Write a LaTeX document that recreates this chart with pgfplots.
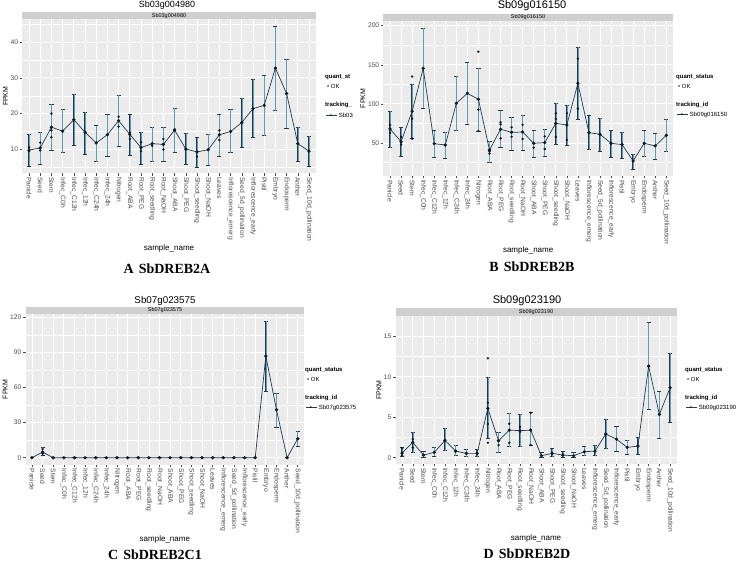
\documentclass[border=0pt]{standalone}
\usepackage{pgfplots}
\pgfplotsset{compat=1.18}
\usepackage{pgfplotstable}
\usepackage{fontspec}
\setmainfont{Liberation Sans}
\newfontfamily\capfont{Liberation Serif}
\definecolor{panelbg}{HTML}{EBEBEB}
\definecolor{stripbg}{HTML}{CFCFCF}
\definecolor{errdark}{HTML}{1E3A4C}
\definecolor{errlight}{HTML}{5E9CB8}
\definecolor{linecol}{HTML}{1F3D50}
\definecolor{ptcol}{HTML}{101C26}
\definecolor{ticktext}{HTML}{4D4D4D}

\pgfplotstableread{
x y lo hi
1 9.8 5.4 14.2
2 10.4 5.9 14.9
3 16.2 9.7 22.6
4 15.1 9.1 21.2
5 18.3 11.2 25.4
6 14.8 8.7 20.5
7 11.8 6.6 16.6
8 14.1 8.1 19.7
9 18.0 11.0 25.2
10 14.2 8.3 19.7
11 10.5 5.9 14.9
12 11.6 6.6 16.3
13 11.4 6.7 16.2
14 15.4 9.3 21.6
15 10.1 5.8 14.6
16 9.3 5.0 13.3
17 9.9 5.5 14.3
18 14.1 8.2 19.7
19 15.0 9.1 21.2
20 17.5 10.6 24.4
21 21.4 13.4 29.6
22 22.3 13.8 30.6
23 32.7 20.8 44.3
24 25.6 16.0 35.3
25 11.6 6.7 16.3
26 9.5 5.3 13.7
}\dataA
\pgfplotstableread{
x y
1 10.6
1 9.5
2 11.9
2 9.7
3 20.0
3 15.3
3 13.4
9 19.1
9 16.4
10 14.7
10 12.9
11 12.0
11 9.5
12 11.0
13 12.9
13 10.0
14 15.6
16 8.0
18 15.3
18 12.6
}\repA

\pgfplotstableread{
x y lo hi
1 67.9 44.0 90.5
2 51.7 33.4 69.6
3 90.5 56.0 125.0
4 145.4 94.3 196.6
5 49.1 32.1 65.8
6 47.4 30.4 63.6
7 100.7 65.8 135.2
8 113.5 73.9 152.7
9 105.8 64.9 145.4
10 41.0 24.9 52.6
11 67.5 44.5 91.3
12 63.6 41.0 82.8
13 64.0 41.0 85.8
14 49.6 32.1 65.8
15 50.4 33.0 67.5
16 75.1 48.7 101.0
17 73.0 47.4 98.1
18 126.3 80.3 172.3
19 63.2 41.5 84.9
20 61.1 39.3 81.5
21 49.6 32.1 65.8
22 47.9 30.8 64.1
23 27.0 16.8 35.5
24 49.6 32.5 65.8
25 46.2 29.5 61.9
26 59.8 38.9 80.7
}\dataB
\pgfplotstableread{
x y
1 73
1 63
2 57.7
2 47.9
3 135
3 81
3 55.5
9 166.7
9 92.6
9 65.3
10 38.9
10 36.4
11 76.4
11 73.9
11 56
12 70
12 58
13 73.4
13 55
14 44
15 58.5
15 42.3
16 88
16 80.7
16 57.7
17 88
17 53.8
18 157.8
18 93.9
}\repB

\pgfplotstableread{
x y lo hi
1 0 0 0
2 4.8 2.3 8.8
3 0 0 0
4 0 0 0
5 0 0 0
6 0 0 0
7 0 0 0
8 0 0 0
9 0 0 0
10 0 0 0
11 0 0 0
12 0 0 0
13 0 0 0
14 0 0 0
15 0 0 0
16 0 0 0
17 0 0 0
18 0 0 0
19 0 0 0
20 0 0 0
21 0 0 0
22 0 0 0
23 86.9 57.0 116.8
24 41.0 26.2 55.0
25 0 0 0
26 16.2 10.0 22.8
}\dataC
\pgfplotstableread{
x y
2 7.5
2 3.5
}\repC

\pgfplotstableread{
x y lo hi
1 0.58 0.12 1.24
2 1.90 0.62 3.20
3 0.33 0.08 0.74
4 0.66 0.20 1.28
5 2.14 0.87 3.63
6 0.82 0.25 1.52
7 0.54 0.12 1.03
8 0.54 0.12 1.03
9 6.10 2.39 9.93
10 2.10 0.62 3.13
11 3.42 1.36 5.48
12 3.34 1.36 5.36
13 3.42 1.57 5.60
14 0.25 0.08 0.62
15 0.54 0.12 1.11
16 0.33 0.08 0.74
17 0.25 0.08 0.62
18 0.74 0.25 1.36
19 0.82 0.25 1.57
20 2.93 1.11 4.74
21 2.30 0.82 3.83
22 1.28 0.41 2.18
23 1.44 0.45 2.55
24 11.33 6.00 16.70
25 5.36 2.39 8.16
26 8.65 4.37 12.94
}\dataD
\pgfplotstableread{
x y
1 1.15
1 0.25
2 2.3
2 1.24
9 12.3
9 6.8
9 4.16
9 1.85
10 1.57
11 4.2
11 1.85
12 3.8
12 3.2
13 5.56
13 1.57
}\repD

\pgfplotsset{
 gg/.style={
  scale only axis, anchor=south west,
  axis background/.style={fill=panelbg},
  axis line style={draw=none},
  xmin=0.4, xmax=26.6,
  xtick={1,...,26},
  xticklabels={Panicle,Seed,Stem,Infec\_C0h,Infec\_C12h,Infec\_12h,Infec\_C24h,Infec\_24h,Nitrogen,Root\_ABA,Root\_PEG,Root\_seedling,Root\_NaOH,Shoot\_ABA,Shoot\_PEG,Shoot\_seedling,Shoot\_NaOH,Leaves,Inflorescence\_emerg,Seed\_5d\_pollination,Inflorescence\_early,Pistil,Embryo,Endosperm,Anther,Seed\_10d\_pollination},
  xticklabel style={rotate=-90, anchor=west, font=\fontsize{6.7}{7}\selectfont, text=ticktext, inner sep=1.5pt},
  yticklabel style={font=\fontsize{6.7}{7}\selectfont, text=ticktext, inner sep=1.5pt},
  xmajorgrids, ymajorgrids, yminorgrids,
  major grid style={white, line width=0.8pt},
  minor grid style={white, line width=0.35pt},
  tick align=outside, major tick length=2.5pt, minor tick length=0pt,
  tick pos=left,
  tick style={black!70, line width=0.5pt},
  /pgf/number format/assume math mode=true,
  xlabel={sample\_name}, ylabel={FPKM},
  xlabel style={font=\fontsize{8}{9}\selectfont, inner sep=1pt},
  ylabel style={font=\fontsize{7}{8}\selectfont, inner sep=1pt},
 },
 ebdark/.style={draw=none, mark=none, forget plot,
   error bars/.cd, y dir=both, y explicit,
   error bar style={draw=errdark, line width=1.3pt},
   error mark=-,
   error mark options={rotate=90, mark size=2.1pt, draw=errdark, line width=0.6pt}},
 eblight/.style={draw=none, mark=none, forget plot,
   error bars/.cd, y dir=both, y explicit,
   error bar style={draw=errlight, line width=0.5pt},
   error mark=none},
 ln/.style={linecol, line width=0.7pt, mark=*, mark size=1.3pt, mark options={fill=ptcol, draw=ptcol}},
 rp/.style={only marks, mark=*, mark size=1pt, ptcol, forget plot},
}
\newcommand{\legOK}{\textcolor{ptcol}{\textbullet}}
\newcommand{\legLine}{\makebox[11pt][l]{\rlap{\textcolor{linecol}{\rule[1.9pt]{11pt}{0.7pt}}}\hspace{3.6pt}\textcolor{ptcol}{\textbullet}}}
\newcommand{\myleg}[5]{%
 \node[anchor=west, font=\fontsize{6}{7}\selectfont\bfseries, inner sep=0pt] at (#1pt,-#2pt) {#3};
 \node[anchor=west, font=\fontsize{6}{7}\selectfont, inner sep=0pt] at (#1pt+2pt,-#2pt-9pt) {\legOK\ OK};
 \node[anchor=west, font=\fontsize{6}{7}\selectfont\bfseries, inner sep=0pt] at (#1pt,-#2pt-28pt) {#4};
 \node[anchor=west, font=\fontsize{6}{7}\selectfont, inner sep=0pt] at (#1pt+1pt,-#2pt-38pt) {\legLine\ #5};
}

\begin{document}
\begin{tikzpicture}
\path[use as bounding box] (0,0) rectangle (738pt,-561pt);

% ---------------- A ----------------
\fill[stripbg] (22.3pt,-19.5pt) rectangle (315.7pt,-12.3pt);
\node[font=\fontsize{5.5}{6}\selectfont] at (169pt,-15.9pt) {Sb03g004980};
\node[font=\fontsize{9}{10}\selectfont] at (167pt,-5.5pt) {Sb03g004980};
\begin{axis}[gg, at={(22.3pt,-173pt)}, width=293.4pt, height=153.5pt,
  ymin=3.4, ymax=46.3, ytick={10,20,30,40}, minor ytick={5,15,25,35,45}]
\addplot[ebdark] table[x=x, y=y, y error plus expr=\thisrow{hi}-\thisrow{y}, y error minus expr=\thisrow{y}-\thisrow{lo}] {\dataA};
\addplot[eblight] table[x=x, y=y, y error plus expr=\thisrow{hi}-\thisrow{y}, y error minus expr=\thisrow{y}-\thisrow{lo}] {\dataA};
\addplot[ln] table[x=x,y=y] {\dataA};
\addplot[rp] table[x=x,y=y] {\repA};
\end{axis}
\myleg{325}{77}{quant\_st}{tracking\_}{Sb03}
\node[font=\capfont\fontsize{14}{16}\selectfont\bfseries] at (167pt,-269pt) {A\hspace{5pt}SbDREB2A};

% ---------------- B ----------------
\fill[stripbg] (383.4pt,-21pt) rectangle (672.9pt,-13.6pt);
\node[font=\fontsize{5.5}{6}\selectfont] at (528pt,-17.3pt) {Sb09g016150};
\node[font=\fontsize{11}{12}\selectfont] at (532pt,-6pt) {Sb09g016150};
\begin{axis}[gg, at={(383.4pt,-175.8pt)}, width=289.5pt, height=154.8pt,
  ymin=8, ymax=206, ytick={50,100,150,200}, minor ytick={25,75,125,175}]
\addplot[ebdark] table[x=x, y=y, y error plus expr=\thisrow{hi}-\thisrow{y}, y error minus expr=\thisrow{y}-\thisrow{lo}] {\dataB};
\addplot[eblight] table[x=x, y=y, y error plus expr=\thisrow{hi}-\thisrow{y}, y error minus expr=\thisrow{y}-\thisrow{lo}] {\dataB};
\addplot[ln] table[x=x,y=y] {\dataB};
\addplot[rp] table[x=x,y=y] {\repB};
\end{axis}
\myleg{676}{77}{quant\_status}{tracking\_id}{Sb09g016150}
\node[font=\capfont\fontsize{14}{16}\selectfont\bfseries] at (532pt,-267pt) {B\hspace{5pt}SbDREB2B};

% ---------------- C ----------------
\fill[stripbg] (25.6pt,-314.3pt) rectangle (304.1pt,-306.5pt);
\node[font=\fontsize{5.5}{6}\selectfont] at (165pt,-310.4pt) {Sb07g023575};
\node[font=\fontsize{9.8}{10}\selectfont] at (165pt,-300.5pt) {Sb07g023575};
\begin{axis}[gg, at={(25.6pt,-464.5pt)}, width=278.5pt, height=150.2pt,
  ymin=-5.8, ymax=122.6, ytick={0,30,60,90,120}, minor ytick={15,45,75,105}]
\addplot[ebdark] table[x=x, y=y, y error plus expr=\thisrow{hi}-\thisrow{y}, y error minus expr=\thisrow{y}-\thisrow{lo}] {\dataC};
\addplot[eblight] table[x=x, y=y, y error plus expr=\thisrow{hi}-\thisrow{y}, y error minus expr=\thisrow{y}-\thisrow{lo}] {\dataC};
\addplot[ln] table[x=x,y=y] {\dataC};
\addplot[rp] table[x=x,y=y] {\repC};
\end{axis}
\myleg{305}{370}{quant\_status}{tracking\_id}{Sb07g023575}
\node[font=\capfont\fontsize{14}{16}\selectfont\bfseries] at (155pt,-555pt) {C\hspace{5pt}SbDREB2C1};

% ---------------- D ----------------
\fill[stripbg] (395.6pt,-316.2pt) rectangle (676.5pt,-308.4pt);
\node[font=\fontsize{5.5}{6}\selectfont] at (536pt,-312.3pt) {Sb09g023190};
\node[font=\fontsize{11}{12}\selectfont] at (527pt,-301pt) {Sb09g023190};
\begin{axis}[gg, at={(395.6pt,-463.8pt)}, width=280.9pt, height=147.6pt,
  ymin=-0.75, ymax=17.5, ytick={0,5,10,15}, minor ytick={2.5,7.5,12.5}]
\addplot[ebdark] table[x=x, y=y, y error plus expr=\thisrow{hi}-\thisrow{y}, y error minus expr=\thisrow{y}-\thisrow{lo}] {\dataD};
\addplot[eblight] table[x=x, y=y, y error plus expr=\thisrow{hi}-\thisrow{y}, y error minus expr=\thisrow{y}-\thisrow{lo}] {\dataD};
\addplot[ln] table[x=x,y=y] {\dataD};
\addplot[rp] table[x=x,y=y] {\repD};
\end{axis}
\myleg{685}{370}{quant\_status}{tracking\_id}{Sb09g023190}
\node[font=\capfont\fontsize{14}{16}\selectfont\bfseries] at (527pt,-554pt) {D\hspace{5pt}SbDREB2D};
\end{tikzpicture}
\end{document}
